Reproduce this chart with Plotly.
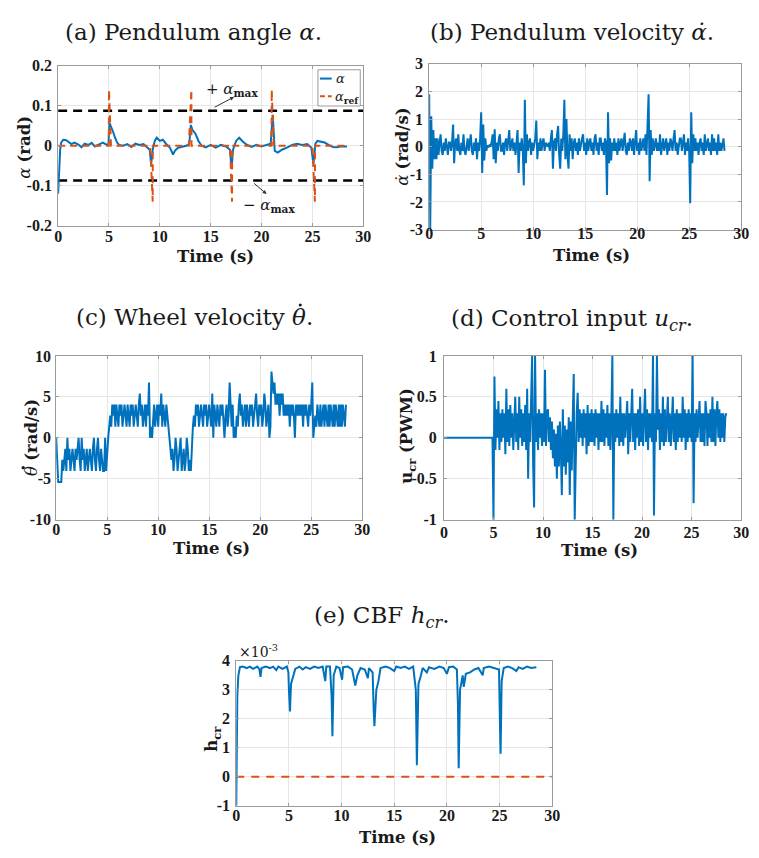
import plotly.graph_objects as go

W, H = 759, 858
BLUE = "#0072BD"
ORANGE = "#D95319"

# ---------------- data ----------------
# (a) pendulum angle alpha [rad] and its reference
alpha_t = [0.0, 0.1, 0.2, 0.3, 0.5, 0.8, 1.0, 1.3, 1.6, 2.0, 2.3, 2.6, 3.0, 3.3, 3.6,
           4.0, 4.4, 4.8, 4.95, 5.05, 5.2, 5.4, 5.6, 5.8, 6.0, 6.4, 6.8, 7.2, 7.6, 8.0,
           8.4, 8.8, 9.0, 9.15, 9.3, 9.5, 9.7, 10.0, 10.3, 10.6, 11.0, 11.3, 11.5, 11.8,
           12.2, 12.6, 12.9, 13.05, 13.2, 13.5, 13.8, 14.1, 14.5, 15.0, 15.5, 16.0, 16.5,
           16.9, 17.05, 17.2, 17.5, 17.8, 18.1, 18.5, 19.0, 19.5, 20.0, 20.5, 20.9, 21.1,
           21.2, 21.3, 21.6, 22.0, 22.5, 23.0, 23.5, 24.0, 24.5, 24.9, 25.1, 25.3, 25.5,
           25.8, 26.2, 26.6, 27.0, 27.4, 27.8, 28.4]
alpha_v = [-0.12, -0.06, -0.01, 0.008, 0.015, 0.014, 0.01, 0.004, 0.008, 0.003, -0.004,
           0.005, 0.002, 0.007, -0.002, 0.003, 0.008, 0.002, 0.004, 0.057, 0.045, 0.035,
           0.02, 0.008, 0.002, 0.0, 0.004, -0.003, 0.005, 0.002, 0.004, -0.004, -0.01,
           -0.046, -0.01, 0.012, 0.02, 0.012, 0.015, 0.005, -0.005, -0.022, -0.012,
           -0.005, -0.002, 0.0, 0.005, 0.052, 0.04, 0.03, 0.012, 0.0, -0.004, 0.002,
           -0.005, 0.002, -0.002, -0.01, -0.058, -0.01, 0.012, 0.02, 0.012, 0.003,
           -0.003, 0.002, -0.002, 0.003, 0.005, 0.077, 0.02, -0.013, -0.017, -0.01,
           -0.005, 0.002, 0.005, 0.002, 0.004, -0.005, -0.046, 0.005, 0.012, 0.01,
           0.008, 0.002, -0.003, -0.004, -0.002, -0.002]
alpha_ref_t = [0.0, 4.98, 5.0, 5.2, 9.05, 9.3, 9.31, 12.85, 13.1, 13.11, 16.9, 17.1,
               17.11, 20.98, 21.0, 21.2, 25.0, 25.25, 25.26, 28.4]
alpha_ref_v = [0.0, 0.0, 0.14, 0.0, 0.0, -0.14, 0.0, 0.0, 0.14, 0.0, 0.0, -0.14,
               0.0, 0.0, 0.14, 0.0, 0.0, -0.14, 0.0, 0.0]
alpha_max = 0.0873

# sampled signals, sample period [s]
dt = 0.1

# (b) pendulum velocity [rad/s], one row per second
alpha_dot = [
    1.9, -3.0, 1.1, -0.8, 0.6, -0.45, 0.3, -0.45, 0.3, -0.3,
    0.15, 0.45, -0.15, -0.3, 0.15, -0.15, 0.3, -0.15, -0.3, 0.15,
    0.15, -0.15, 0.15, 0.8, -0.6, 0.15, 0.3, -0.15, 0.45, -0.15,
    -0.3, 0.15, -0.15, 0.45, -0.15, -0.3, 0.15, 0.3, -0.15, 0.15,
    0.45, -0.15, -0.3, 0.15, -0.15, 0.3, -0.45, 0.15, -0.15, 0.3,
    1.25, -0.95, 0.8, -0.5, 0.3, -0.15, 0.05, 0.0, 0.05, 0.0,
    0.15, 0.45, -0.45, 0.63, -0.6, 0.15, -0.15, 0.3, 0.45, -0.15,
    -0.15, 0.15, -0.3, 0.15, 0.3, -0.15, 0.15, 0.6, -0.15, 0.15,
    0.3, -0.15, 0.15, -0.3, 0.15, 0.6, -0.95, 0.15, -0.15, 0.3,
    -0.15, -1.4, 1.7, -0.6, 0.45, -0.15, 0.15, 0.3, -0.3, 0.15,
    -0.15, 0.15, 0.3, 0.95, -0.45, 0.15, -0.15, 0.3, -0.15, 0.15,
    0.3, -0.15, 0.15, 0.05, 0.0, 0.15, -0.15, 0.3, 0.6, -0.8,
    0.15, 0.3, -0.15, 0.45, 0.75, -0.3, -0.8, 0.3, -0.15, 0.45,
    1.7, -0.45, 1.0, -0.3, -0.8, 0.45, -0.15, 0.3, -0.45, 0.15,
    0.3, -0.15, 0.15, -0.3, 0.3, -0.15, 0.15, 0.3, 0.45, -0.15,
    0.15, -0.3, 0.3, -0.15, 0.15, 0.3, -0.15, 0.15, -0.3, 0.3,
    0.45, -0.15, 0.15, -0.3, 0.3, 0.3, -0.15, 0.15, -0.3, 0.3,
    0.15, -1.75, 1.25, -0.6, 0.3, -0.5, 0.15, -0.15, 0.3, -0.15,
    0.15, -0.3, 0.3, -0.15, 0.15, 0.3, -0.15, 0.15, 0.5, -0.15,
    -0.3, 0.15, -0.15, 0.3, 0.15, -0.15, 0.3, -0.3, 0.15, 0.6,
    -0.15, 0.15, -0.3, 0.3, -0.15, 0.15, 0.3, -0.15, 0.45, -0.3,
    1.25, 1.9, -1.25, 0.6, -0.3, 0.3, -0.15, 0.15, 0.3, -0.15,
    0.15, -0.15, 0.45, -0.3, 0.15, 0.3, -0.15, 0.15, 0.3, -0.3,
    0.15, -0.15, 0.3, 0.15, -0.15, 0.3, 0.6, -0.15, 0.15, -0.3,
    0.15, 0.3, 0.3, -0.15, 0.15, 0.45, -0.3, 0.15, -0.15, 0.3,
    -0.15, -2.05, 1.25, -0.6, 0.45, -0.15, 0.3, -0.15, 0.15, -0.3,
    0.15, 0.3, -0.15, 0.15, -0.3, 0.45, -0.15, 0.15, 0.3, -0.15,
    0.15, -0.3, 0.45, -0.15, 0.3, -0.15, 0.15, -0.3, 0.45, -0.15,
    0.15, -0.15, 0.15, 0.3, -0.15,
]

# (c) wheel velocity [rad/s], quantised encoder rate
theta_dot = [
    0.0, -4.05, -5.4, -5.4, -5.4, -5.4, -2.7, -4.05, -2.7, -1.35,
    -4.05, 0.0, -2.7, -1.35, -4.05, -2.7, -1.35, -2.7, -4.05, -1.35,
    -2.7, -1.35, 0.0, -2.7, -4.05, 0.0, -2.7, -1.35, -4.05, -2.7,
    -1.35, -4.05, -2.7, -1.35, -2.7, -4.05, -1.35, 0.0, -2.7, -4.05,
    -1.35, 0.0, -2.7, -4.05, -1.35, -2.7, -4.05, -4.05, 0.0, -4.05,
    -1.35, 0.0, 1.35, 2.7, 1.35, 4.05, 2.7, 4.05, 1.35, 4.05,
    2.7, 1.35, 4.05, 2.7, 4.05, 1.35, 2.7, 4.05, 2.7, 1.35,
    4.05, 2.7, 1.35, 4.05, 2.7, 4.05, 1.35, 2.7, 4.05, 2.7,
    1.35, 4.05, 5.4, 2.7, 4.05, 1.35, 2.7, 4.05, 1.35, 4.05,
    2.7, 6.75, 0.0, 1.35, 0.0, 2.7, 4.05, 1.35, 2.7, 4.05,
    1.35, 4.05, 2.7, 5.4, 1.35, 4.05, 2.7, 1.35, 4.05, 2.7,
    1.35, 0.0, -1.35, -2.7, -1.35, -4.05, -2.7, 0.0, -1.35, -4.05,
    -2.7, -1.35, 0.0, -4.05, -2.7, -1.35, -4.05, -2.7, 0.0, -1.35,
    -4.05, -2.7, -4.05, 0.0, 1.35, 2.7, 1.35, 4.05, 2.7, 4.05,
    1.35, 2.7, 4.05, 2.7, 1.35, 4.05, 2.7, 4.05, 1.35, 2.7,
    4.05, 2.7, 1.35, 5.4, 0.0, 4.05, 2.7, 1.35, 4.05, 2.7,
    1.35, 4.05, 2.7, 4.05, 1.35, 0.0, 2.7, 4.05, 1.35, 2.7,
    6.75, 2.7, 1.35, 4.05, 0.0, 1.35, 0.0, 2.7, 1.35, 4.05,
    5.4, 2.7, 4.05, 1.35, 2.7, 4.05, 1.35, 4.05, 2.7, 1.35,
    4.05, 2.7, 4.05, 1.35, 2.7, 4.05, 5.4, 2.7, 1.35, 4.05,
    2.7, 4.05, 1.35, 2.7, 5.4, 4.05, 1.35, 2.7, 4.05, 0.0,
    1.35, 8.1, 6.75, 5.4, 6.75, 4.05, 5.4, 4.05, 5.4, 2.7,
    5.4, 4.05, 5.4, 2.7, 4.05, 2.7, 4.05, 2.7, 4.05, 1.35,
    4.05, 2.7, 4.05, 2.7, 0.0, 4.05, 2.7, 4.05, 2.7, 4.05,
    2.7, 4.05, 1.35, 4.05, 2.7, 4.05, 2.7, 1.35, 4.05, 2.7,
    4.05, 6.75, 0.0, 1.35, 2.7, 1.35, 4.05, 2.7, 1.35, 4.05,
    1.35, 2.7, 4.05, 1.35, 4.05, 2.7, 1.35, 4.05, 1.35, 4.05,
    2.7, 1.35, 4.05, 1.35, 4.05, 2.7, 1.35, 4.05, 1.35, 4.05,
    1.35, 4.05, 2.7, 1.35, 4.05,
]

# (d) control input [PWM duty], controller engaged at t = 5 s
u_cr = [
    0.0, 0.0, 0.0, 0.0, 0.0, 0.0, 0.0, 0.0, 0.0, 0.0,
    0.0, 0.0, 0.0, 0.0, 0.0, 0.0, 0.0, 0.0, 0.0, 0.0,
    0.0, 0.0, 0.0, 0.0, 0.0, 0.0, 0.0, 0.0, 0.0, 0.0,
    0.0, 0.0, 0.0, 0.0, 0.0, 0.0, 0.0, 0.0, 0.0, 0.0,
    0.0, 0.0, 0.0, 0.0, 0.0, 0.0, 0.0, 0.0, 0.0, 0.0,
    -1.0, 0.75, -0.15, 0.35, 0.0, 0.45, -0.15, 0.3, -0.05, 0.35,
    0.0, 0.3, -0.2, 0.6, -0.05, 0.35, -0.1, 0.4, 0.0, 0.3,
    -0.15, 0.35, 0.5, -0.05, 0.3, -0.15, 0.5, 0.0, 0.35, -0.1,
    0.3, -0.05, 0.4, -0.15, 0.6, -0.5, 0.3, -0.05, 0.35, 1.0,
    -0.3, -0.85, 1.0, -0.05, 0.3, -0.15, 0.35, 0.0, 0.3, -0.1,
    0.3, -0.05, 0.83, -0.1, 0.3, 0.35, -0.05, 0.25, -0.15, 0.2,
    -0.25, 0.1, -0.35, 0.05, -0.5, 0.15, -0.35, 0.2, -0.15, -0.7,
    0.35, -0.35, 0.15, -0.45, 0.1, -0.3, 0.25, -0.7, 0.2, -0.4,
    0.25, 0.78, -1.0, -0.2, 0.3, 0.55, -0.05, 0.35, 0.0, 0.3,
    -0.1, 0.35, 0.0, 0.3, -0.2, 0.4, -0.1, 0.3, -0.05, 0.35,
    -0.05, 0.3, -0.1, 0.35, 0.0, 0.3, -0.15, 0.3, -0.05, 0.45,
    -0.05, 0.35, -0.1, 0.3, 0.0, 0.4, -0.1, 0.3, -0.15, 0.3,
    1.0, -1.0, 0.3, -0.05, 0.35, 0.0, 0.3, -0.1, 0.5, -0.05,
    0.3, -0.1, 0.3, 0.0, 0.35, 0.45, -0.2, 0.3, -0.05, 0.3,
    0.6, -0.05, 0.3, -0.15, 0.3, 0.0, 0.35, -0.1, 0.5, -0.05,
    0.3, -0.1, 0.3, 0.6, -0.05, 0.35, -0.15, 0.3, 0.0, 0.3,
    -0.05, 1.0, -0.95, 0.3, -0.05, 1.0, 0.1, 0.35, -0.15, 0.3,
    -0.05, 0.5, -0.1, 0.35, -0.05, 0.3, 0.5, -0.05, 0.3, -0.1,
    0.3, 0.5, -0.05, 0.3, -0.15, 0.35, -0.05, 0.3, 0.0, 0.3,
    -0.05, 0.5, 0.0, 0.35, -0.15, 0.3, -0.05, 0.35, 0.0, 0.3,
    -0.05, 1.0, -0.8, 0.3, -0.05, 0.35, 0.0, 0.3, 0.45, -0.05,
    0.3, -0.05, 0.3, -0.1, 0.45, 0.3, -0.1, 0.3, 0.0, 0.35,
    -0.05, 0.5, -0.05, 0.35, -0.1, 0.3, 0.45, 0.0, 0.35, -0.05,
    0.3, 0.0, 0.3, -0.05, 0.25, 0.3,
]

# (e) control barrier function h_cr, in units of 1e-3
h_t = [0.0, 0.05, 0.1, 0.2, 0.35, 0.6, 1.0, 1.3, 1.6, 2.0, 2.2, 2.3, 2.4, 2.8, 3.2,
       3.5, 3.8, 4.0, 4.4, 4.8, 4.95, 5.0, 5.1, 5.2, 5.4, 5.6, 6.0, 6.3, 6.6, 7.0,
       7.4, 7.8, 8.2, 8.45, 8.55, 8.9, 9.05, 9.13, 9.25, 9.5, 9.8, 10.05, 10.15,
       10.6, 11.0, 11.3, 11.5, 11.8, 12.2, 12.5, 12.6, 12.95, 13.05, 13.12, 13.3,
       13.5, 13.7, 14.2, 14.6, 15.0, 15.2, 15.6, 16.0, 16.4, 16.8, 17.05, 17.15,
       17.3, 17.5, 17.7, 18.1, 18.3, 18.8, 19.3, 19.7, 20.0, 20.2, 20.6, 20.95,
       21.05, 21.12, 21.25, 21.5, 21.6, 21.8, 22.2, 22.6, 23.0, 23.4, 23.5, 24.0,
       24.5, 24.95, 25.05, 25.1, 25.2, 25.4, 25.8, 26.2, 26.6, 26.8, 27.2, 27.6,
       28.0, 28.5]
h_cr = [-1.0, 1.0, 2.8, 3.5, 3.78, 3.8, 3.75, 3.8, 3.72, 3.8, 3.7, 3.45, 3.75, 3.8,
        3.75, 3.8, 3.68, 3.8, 3.72, 3.8, 3.6, 3.0, 2.25, 3.2, 3.5, 3.72, 3.8, 3.7,
        3.78, 3.72, 3.8, 3.75, 3.8, 3.3, 3.8, 3.8, 2.8, 1.4, 3.5, 3.8, 3.75, 3.35,
        3.78, 3.8, 3.7, 3.15, 3.5, 3.75, 3.7, 3.4, 3.75, 3.6, 2.3, 1.75, 3.0, 3.3,
        3.75, 3.8, 3.75, 3.65, 3.8, 3.75, 3.8, 3.72, 3.8, 3.0, 0.4, 3.2, 3.45, 3.75,
        3.6, 3.78, 3.72, 3.8, 3.75, 3.55, 3.78, 3.8, 3.7, 2.5, 0.3, 3.0, 3.5, 3.1,
        3.55, 3.6, 3.7, 3.75, 3.5, 3.75, 3.8, 3.75, 3.7, 1.6, 0.8, 3.3, 3.75, 3.8,
        3.75, 3.65, 3.78, 3.72, 3.8, 3.75, 3.78]

# axis ticks
x_tick_vals = [0, 5, 10, 15, 20, 25, 30]
x_tick_text = ["0", "5", "10", "15", "20", "25", "30"]
ya_vals, ya_text = [-0.2, -0.1, 0, 0.1, 0.2], ["-0.2", "-0.1", "0", "0.1", "0.2"]
yb_vals, yb_text = [-3, -2, -1, 0, 1, 2, 3], ["-3", "-2", "-1", "0", "1", "2", "3"]
yc_vals, yc_text = [-10, -5, 0, 5, 10], ["-10", "-5", "0", "5", "10"]
yd_vals, yd_text = [-1, -0.5, 0, 0.5, 1], ["-1", "-0.5", "0", "0.5", "1"]
ye_vals, ye_text = [-1, 0, 1, 2, 3, 4], ["-1", "0", "1", "2", "3", "4"]


def grid_time(values):
    return [round(i * dt, 2) for i in range(len(values))]


def px(x):
    return x / W


def py(y):
    return 1 - y / H


# ---------------- figure ----------------
fig = go.Figure()

# (a)
for level in (alpha_max, -alpha_max):
    fig.add_trace(go.Scatter(x=[0, 30], y=[level, level], mode="lines",
                             line=dict(color="black", width=2.5, dash="9px,6px"),
                             showlegend=False, xaxis="x", yaxis="y"))
fig.add_trace(go.Scatter(x=alpha_t, y=alpha_v, mode="lines", name="α",
                         line=dict(color=BLUE, width=2), showlegend=False,
                         xaxis="x", yaxis="y"))
fig.add_trace(go.Scatter(x=alpha_ref_t, y=alpha_ref_v, mode="lines", name="α_ref",
                         line=dict(color=ORANGE, width=2, dash="7px,5px"),
                         showlegend=False, xaxis="x", yaxis="y"))
# (b)
fig.add_trace(go.Scatter(x=grid_time(alpha_dot), y=alpha_dot, mode="lines",
                         line=dict(color=BLUE, width=2), showlegend=False,
                         xaxis="x2", yaxis="y2"))
# (c)
fig.add_trace(go.Scatter(x=grid_time(theta_dot), y=theta_dot, mode="lines",
                         line=dict(color=BLUE, width=2), showlegend=False,
                         xaxis="x3", yaxis="y3"))
# (d)
fig.add_trace(go.Scatter(x=grid_time(u_cr), y=u_cr, mode="lines",
                         line=dict(color=BLUE, width=2), showlegend=False,
                         xaxis="x4", yaxis="y4"))
# (e)
fig.add_trace(go.Scatter(x=[0, 30], y=[0, 0], mode="lines",
                         line=dict(color=ORANGE, width=2, dash="8px,7px"),
                         showlegend=False, xaxis="x5", yaxis="y5"))
fig.add_trace(go.Scatter(x=h_t, y=h_cr, mode="lines",
                         line=dict(color=BLUE, width=2), showlegend=False,
                         xaxis="x5", yaxis="y5"))

FRAME = "#9b9b9b"
INK = "#1a1a1a"
TICKFONT = dict(family="Liberation Serif", size=16, color=INK, weight="bold")


def axis(domain, anchor, rng, vals, text, standoff):
    return dict(domain=domain, anchor=anchor, range=rng, tickvals=vals, ticktext=text,
                showgrid=True, gridcolor="#e6e6e6", gridwidth=1, zeroline=False,
                showline=True, linecolor=FRAME, linewidth=1, mirror="ticks",
                ticks="inside", ticklen=3, tickcolor=FRAME, tickfont=TICKFONT,
                ticklabelstandoff=standoff, fixedrange=True)


# pixel boxes of the five panels: left, right, top, bottom
boxes = {
    "a": (55, 365, 59, 222),
    "b": (432, 749, 57, 226),
    "c": (53, 364, 355, 522),
    "d": (447, 749, 355, 522),
    "e": (236, 557, 666, 814),
}


def dom(key):
    l, r, t, b = boxes[key]
    return [px(l), px(r)], [py(b), py(t)]


layout = dict(width=W, height=H, autosize=False, margin=dict(l=0, r=0, t=0, b=0),
              paper_bgcolor="white", plot_bgcolor="white", showlegend=False)
specs = [("a", "", (-0.2, 0.2), ya_vals, ya_text, -4, 2),
         ("b", "2", (-3, 3), yb_vals, yb_text, -11, 2),
         ("c", "3", (-10, 10), yc_vals, yc_text, -5, 1),
         ("d", "4", (-1, 1), yd_vals, yd_text, -2, 3),
         ("e", "5", (-1, 4), ye_vals, ye_text, -5, 2)]
for key, n, yr, yv, yt, xstand, ystand in specs:
    xd, yd = dom(key)
    layout["xaxis" + n] = axis(xd, "y" + n, [0, 30], x_tick_vals, x_tick_text, xstand)
    layout["yaxis" + n] = axis(yd, "x" + n, list(yr), yv, yt, ystand)

TITLE = dict(family="DejaVu Serif", size=23, color=INK)
LABEL = dict(family="DejaVu Serif", size=16.5, color=INK)

annotations = []
shapes = []


def note(text, x, y, font, angle=0, xanchor="center"):
    annotations.append(dict(text=text, x=px(x), y=py(y), xref="paper", yref="paper",
                            showarrow=False, font=font, textangle=angle,
                            xanchor=xanchor, yanchor="middle"))


def dot(x, y, r=1.6):
    shapes.append(dict(type="circle", xref="paper", yref="paper", layer="above",
                       x0=px(x - r), x1=px(x + r), y0=py(y + r), y1=py(y - r),
                       fillcolor=INK, line=dict(width=0)))


# panel titles
note("(a) Pendulum angle <i>α</i>.", 193, 24, TITLE)
note("(b) Pendulum velocity <i>α̇</i>.", 577, 24, TITLE)
note("(c) Wheel velocity <i>θ</i>.", 194, 315, TITLE)
dot(301, 303)
note("(d) Control input <i>u<sub>cr</sub></i>.", 577, 318, TITLE)
note("(e) CBF <i>h<sub>cr</sub></i>.", 384, 621, TITLE)

# x-axis labels
for x, y in [(215, 254), (597, 253), (211, 551), (605, 553), (400, 846)]:
    note("<b>Time (s)</b>", x, y, LABEL)

# y-axis labels
note("<i>α</i> <b>(rad)</b>", 21, 142, LABEL, angle=-90)
note("<i>α̇</i> <b>(rad/s)</b>", 405, 142, LABEL, angle=-90)
note("<i>θ</i> <b>(rad/s)</b>", 28, 438, LABEL, angle=-90)
dot(19.5, 469, r=1.7)
note("<b>u<sub>cr</sub> (PWM)</b>", 410, 437, LABEL, angle=-90)
note("<b>h<sub>cr</sub></b>", 212, 746, LABEL, angle=-90)

# exponent of panel (e)
note("×10<sup>-3</sup>", 237, 656, dict(family="DejaVu Serif", size=14, color=INK),
     xanchor="left")

# legend of panel (a)
LEG = dict(family="DejaVu Serif", size=13, color=INK)
shapes.append(dict(type="rect", xref="paper", yref="paper", layer="above",
                   x0=px(319), x1=px(362), y0=py(100), y1=py(63),
                   fillcolor="white", line=dict(color=FRAME, width=1)))
shapes.append(dict(type="line", xref="paper", yref="paper", layer="above",
                   x0=px(321), x1=px(333), y0=py(72), y1=py(72),
                   line=dict(color=BLUE, width=2)))
shapes.append(dict(type="line", xref="paper", yref="paper", layer="above",
                   x0=px(321), x1=px(333), y0=py(90), y1=py(90),
                   line=dict(color=ORANGE, width=2, dash="5px,3px")))
note("<i>α</i>", 335, 72, LEG, xanchor="left")
note("<i>α</i><sub><b>ref</b></sub>", 334, 91, LEG, xanchor="left")

# alpha_max markers in panel (a)
ANN = dict(family="DejaVu Serif", size=15, color=INK)
annotations.append(dict(text="+ <i>α</i><sub><b>max</b></sub>", x=17.1, y=0.141,
                        xref="x", yref="y", showarrow=False, font=ANN))
annotations.append(dict(text="", x=17.3, y=0.122, xref="x", yref="y", showarrow=True,
                        ax=-21, ay=11, arrowhead=2, arrowsize=0.8, arrowwidth=1,
                        arrowcolor="#333333"))
annotations.append(dict(text="− <i>α</i><sub><b>max</b></sub>", x=20.7, y=-0.150,
                        xref="x", yref="y", showarrow=False, font=ANN))
annotations.append(dict(text="", x=20.5, y=-0.121, xref="x", yref="y", showarrow=True,
                        ax=-14, ay=-12, arrowhead=2, arrowsize=0.8, arrowwidth=1,
                        arrowcolor="#333333"))

layout["annotations"] = annotations
layout["shapes"] = shapes
fig.update_layout(**layout)
fig.write_html("out.html")
